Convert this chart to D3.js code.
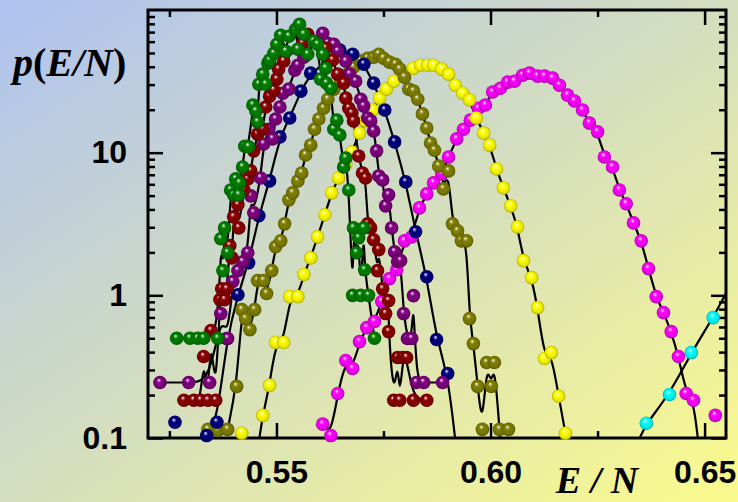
<!DOCTYPE html>
<html>
<head>
<meta charset="utf-8">
<script src="https://cdn.jsdelivr.net/npm/d3@7"></script>
<style>
  body { margin: 0; }
  svg { display: block; }
  .tick text { font-family: "Liberation Sans", Arial, sans-serif; font-weight: bold; font-size: 32px; fill: #000; }
  .tick line { stroke: #000; stroke-width: 2.5; }
  .title { font-family: "Liberation Serif", "Times New Roman", serif; font-weight: bold; font-style: italic; font-size: 40px; }
  .upright { font-style: normal; }
</style>
</head>
<body>
<svg id="svg" width="738" height="502"></svg>
<script>
// [E/N, p(E/N)], one array per series
// a third entry of 0 keeps that marker off the black curve
const green = [[0.5267,0.50],[0.5298,0.50],[0.5316,0.50],[0.5330,0.50],[0.5363,0.50],[0.5370,2.49],[0.5375,1.49],[0.5379,2.97],[0.5386,1.99],[0.5393,5.48],[0.5400,5.06],[0.5405,6.55],[0.5412,5.06],[0.5414,6.14],[0.5421,7.94],[0.5426,11.1],[0.5435,11.0],[0.5445,21.6],[0.5452,19.6],[0.5456,16.4],[0.5459,30.2],[0.5468,35.5],[0.5475,30.2],[0.5480,42.4],[0.5484,44.5],[0.5494,49.8],[0.5501,57.5],[0.5510,66.5],[0.5522,51.4],[0.5529,65.5],[0.5545,73.3],[0.5550,53.1],[0.5554,79.4],[0.5564,67.6],[0.5573,49.0],[0.5587,60.4],[0.5596,57.5],[0.5603,32.8],[0.5608,49.0],[0.5615,39.1],[0.5617,30.7],[0.5627,28.3],[0.5634,14.6],[0.5641,16.9],[0.5648,13.3],[0.5657,7.94],[0.5662,9.18],[0.5669,5.48],[0.5678,1.0],[0.5680,2.97],[0.5687,1.99],[0.5692,2.53],[0.5697,1.0],[0.5704,2.97],[0.5706,1.51],[0.5715,1.0],[0.5729,0.50]];
const darkred = [[0.5284,0.184],[0.5307,0.184],[0.5323,0.184],[0.5330,0.373],[0.5340,0.184],[0.5347,0.567],[0.5358,0.184],[0.5368,0.933],[0.5372,1.11],[0.5379,0.933],[0.5384,1.11],[0.5391,2.23],[0.5396,1.83],[0.5400,3.55],[0.5410,4.31],[0.5412,2.97],[0.5424,5.48],[0.5433,6.55],[0.5440,7.45],[0.5447,10.3],[0.5456,13.5],[0.5468,14.6],[0.5475,20.9],[0.5484,24.9],[0.5494,27.4],[0.5501,32.8],[0.5505,38.5],[0.5517,43.8],[0.5561,58.5],[0.5573,67.6],[0.5587,60.4],[0.5615,54.0],[0.5631,44.5],[0.5643,35.5],[0.5657,30.7],[0.5662,24.1],[0.5669,20.5],[0.5676,18.9],[0.5680,16.7],[0.5692,9.48],[0.5701,7.21],[0.5708,6.65],[0.5713,3.17],[0.5720,2.97],[0.5727,2.45],[0.5736,1.49],[0.5739,2.09],[0.5748,1.11],[0.5755,0.745],[0.5762,0.918],[0.5762,0.557],[0.5774,0.184],[0.5783,0.367],[0.5788,0.184],[0.5795,0.367],[0.5804,0.367],[0.5820,0.184],[0.5851,0.184]];
const purple = [[0.5228,0.245],[0.5295,0.245],[0.5344,0.245],[0.5370,0.745],[0.5386,0.498],[0.5398,1.25],[0.5410,1.49],[0.5421,1.72],[0.5433,1.99],[0.5440,4.98],[0.5447,3.79],[0.5463,6.65],[0.5470,11.5],[0.5482,14.6],[0.5491,12.5],[0.5498,17.2],[0.5508,20.9],[0.5515,26.1],[0.5529,27.9],[0.5543,37.9],[0.5550,41.0],[0.5564,46.7],[0.5608,68.7],[0.5620,58.5],[0.5634,57.5],[0.5643,51.4],[0.5662,43.8],[0.5671,35.5],[0.5685,31.7],[0.5697,23.7],[0.5704,21.2],[0.5713,17.5],[0.5720,16.7],[0.5727,14.2],[0.5734,10.3],[0.5739,6.87],[0.5748,6.44],[0.5755,4.24],[0.5762,5.06],[0.5769,2.97],[0.5776,2.02],[0.5783,1.72],[0.5790,1.75],[0.5797,0.745],[0.5806,0.498],[0.5816,0.498],[0.5820,0.995],[0.5827,0.245],[0.5844,0.245],[0.5888,0.245]];
const navy = [[0.5263,0.129,0],[0.5337,0.104],[0.5361,0.129],[0.5384,0.498],[0.5410,1.01],[0.5435,1.69],[0.5459,3.61],[0.5484,6.34],[0.5508,12.9],[0.5531,17.5],[0.5557,27.0],[0.5580,36.1],[0.5648,52.3],[0.5678,49.0],[0.5704,41.7],[0.5727,30.7],[0.5753,19.9],[0.5776,11.9],[0.5802,6.24],[0.5825,2.79],[0.5851,1.35],[0.5874,0.490],[0.5900,0.283]];
const olive = [[0.5340,0.115,0],[0.5363,0.113,0],[0.5386,0.115],[0.5407,0.230],[0.5419,0.794],[0.5428,0.687],[0.5438,0.575],[0.5449,0.794],[0.5456,1.27],[0.5470,1.27],[0.5477,1.03],[0.5489,1.49],[0.5498,2.19],[0.5510,2.41],[0.5519,3.17],[0.5529,4.67],[0.5538,5.23],[0.5550,6.34],[0.5559,7.21],[0.5568,9.64],[0.5580,11.3],[0.5589,14.6],[0.5599,17.2],[0.5610,20.5],[0.5620,23.7],[0.5634,27.9],[0.5650,31.7],[0.5666,35.5],[0.5680,39.7],[0.5697,43.8],[0.5713,45.9],[0.5727,46.7],[0.5739,49.0],[0.5750,45.9],[0.5764,43.1],[0.5778,41.7],[0.5788,38.5],[0.5799,33.8],[0.5809,27.9],[0.5820,27.0],[0.5830,23.7],[0.5841,18.7],[0.5851,14.9],[0.5860,11.7],[0.5869,10.4],[0.5879,8.07],[0.5890,5.57],[0.5902,7.45],[0.5911,3.17],[0.5923,2.83],[0.5932,2.41],[0.5944,2.41],[0.5951,0.687],[0.5960,0.459],[0.5970,0.230],[0.5981,0.115],[0.5991,0.338],[0.6002,0.230],[0.6009,0.338],[0.6021,0.115],[0.6042,0.115,0]];
const yellow = [[0.5419,0.108,0],[0.5468,0.144],[0.5484,0.234],[0.5498,0.467],[0.5517,0.467],[0.5531,0.98],[0.5550,0.98],[0.5564,1.40],[0.5580,1.83],[0.5596,2.57],[0.5613,3.67],[0.5629,5.23],[0.5645,6.65],[0.5662,8.34],[0.5676,10.1],[0.5694,13.7],[0.5708,16.7],[0.5725,19.9],[0.5741,24.1],[0.5757,27.9],[0.5774,31.7],[0.5795,36.7],[0.5820,39.1],[0.5837,41.0],[0.5853,41.0],[0.5867,41.0],[0.5886,38.5],[0.5902,35.5],[0.5918,29.7],[0.5935,26.1],[0.5951,23.4],[0.5967,17.5],[0.5984,13.7],[0.5998,11.3],[0.6014,7.69],[0.6030,5.66],[0.6047,4.24],[0.6063,3.02],[0.6077,1.75],[0.6096,1.33],[0.6110,0.82],[0.6126,0.361],[0.6142,0.397],[0.6159,0.196],[0.6175,0.108]];
const magenta = [[0.5608,0.125],[0.5627,0.104],[0.5643,0.205],[0.5662,0.349],[0.5678,0.307],[0.5694,0.474],[0.5711,0.594],[0.5729,0.655],[0.5746,0.904],[0.5764,1.31],[0.5781,1.51],[0.5799,2.41],[0.5816,2.57],[0.5834,4.10],[0.5851,5.14],[0.5867,6.14],[0.5886,7.10],[0.5902,9.33],[0.5921,12.5],[0.5937,14.6],[0.5953,16.9],[0.5972,20.5],[0.5988,21.6],[0.6005,26.6],[0.6023,28.3],[0.6040,31.2],[0.6056,31.7],[0.6075,34.9],[0.6091,36.1],[0.6110,34.4],[0.6126,34.4],[0.6145,33.3],[0.6161,29.7],[0.6180,25.3],[0.6196,23.0],[0.6215,19.9],[0.6231,16.1],[0.6250,14.0],[0.6266,9.33],[0.6285,7.94],[0.6301,5.48],[0.6317,4.38],[0.6334,3.22],[0.6352,2.41],[0.6369,1.54],[0.6387,0.98],[0.6404,0.757],[0.6422,0.557],[0.6439,0.373],[0.6457,0.205],[0.6474,0.184],[0.6525,0.144,0]];
const cyan = [[0.6364,0.127],[0.6418,0.202],[0.6469,0.397],[0.6520,0.698]];

// where the black curve runs on past the markers
const navyTail = [[0.5918,0.095]];
const oliveTail = [[0.6023,0.095]];
const yellowTail = [[0.5459,0.095],[0.6178,0.095]];
const magentaTail = [[0.6485,0.095]];
const cyanTail = [[0.6345,0.095],[0.6556,1.12]];

// ticks
const xMajor = [0.55, 0.60, 0.65];
const xMinor = [0.525, 0.575, 0.625];
const yMajor = [0.1, 1, 10];
const yMinor = [0.2,0.3,0.4,0.5,0.6,0.7,0.8,0.9,2,3,4,5,6,7,8,9,20,30,40,50,60,70,80,90];

// drawn bottom to top
const series = [
  {name: "cyan", color: "#00ffff", pts: cyan, tail: cyanTail},
  {name: "magenta", color: "#ff00ff", pts: magenta, tail: magentaTail},
  {name: "yellow", color: "#ffff00", pts: yellow, tail: yellowTail},
  {name: "olive", color: "#808000", pts: olive, tail: oliveTail},
  {name: "navy", color: "#000080", pts: navy, tail: navyTail},
  {name: "purple", color: "#800080", pts: purple, tail: []},
  {name: "darkred", color: "#8b0000", pts: darkred, tail: []},
  {name: "green", color: "#008000", pts: green, tail: []}
];

const attr = {
  width: 738,
  height: 502,
  left: 148,
  right: 726,
  top: 10,
  bottom: 438,
  radius: 6.8
};

const svg = d3.select("svg#svg");
const defs = svg.append("defs");

// background gradient, blue top left to yellow bottom right
let bg = defs.append("linearGradient")
  .attr("id", "bg")
  .attr("x1", 0).attr("y1", 0)
  .attr("x2", 1).attr("y2", 1);
bg.append("stop").attr("offset", 0).attr("stop-color", "#aec2f1");
bg.append("stop").attr("offset", 1).attr("stop-color", "#fbfa8c");

svg.append("rect")
  .attr("width", attr.width)
  .attr("height", attr.height)
  .attr("fill", "url(#bg)");

defs.append("clipPath").attr("id", "plotclip")
  .append("rect")
  .attr("x", attr.left)
  .attr("y", attr.top)
  .attr("width", attr.right - attr.left)
  .attr("height", attr.bottom - attr.top);

// shaded balls
series.forEach(function(s) {
  let c = d3.rgb(s.color);
  let grad = defs.append("radialGradient")
    .attr("id", "ball-" + s.name)
    .attr("cx", "50%").attr("cy", "50%").attr("r", "50%")
    .attr("fx", "40%").attr("fy", "30%");
  grad.append("stop").attr("offset", "0%").attr("stop-color", "#ffffff");
  grad.append("stop").attr("offset", "14%").attr("stop-color", d3.interpolateRgb(c, "#ffffff")(0.55));
  grad.append("stop").attr("offset", "34%").attr("stop-color", c.formatHex());
  grad.append("stop").attr("offset", "80%").attr("stop-color", c.darker(0.3).formatHex());
  grad.append("stop").attr("offset", "100%").attr("stop-color", c.darker(1.1).formatHex());
});

const x = d3.scaleLinear().domain([0.52, 0.655]).range([attr.left, attr.right]);
const y = d3.scaleLog().domain([0.1, 100]).range([attr.bottom, attr.top]);

var translate = function(a, b) {
  return "translate(" + a + "," + b + ")";
};

// axes, ticks pointing inward
var addAxis = function(axis, pos, values, size, labels, pad) {
  let g = svg.append("g")
    .attr("transform", pos)
    .call(axis.tickValues(values).tickSize(-size).tickPadding(pad || 3)
      .tickFormat(labels ? labels : ""));
  g.select(".domain").remove();
  return g;
};

addAxis(d3.axisLeft(y), translate(attr.left, 0), yMajor, 15, d => d < 1 ? d.toFixed(1) : String(d), 21);
addAxis(d3.axisLeft(y), translate(attr.left, 0), yMinor, 7);
addAxis(d3.axisRight(y), translate(attr.right, 0), yMajor, 15);
addAxis(d3.axisRight(y), translate(attr.right, 0), yMinor, 7);
addAxis(d3.axisBottom(x), translate(0, attr.bottom), xMajor, 15, d3.format(".2f"), 22);
addAxis(d3.axisBottom(x), translate(0, attr.bottom), xMinor, 7);
addAxis(d3.axisTop(x), translate(0, attr.top), xMajor, 15);
addAxis(d3.axisTop(x), translate(0, attr.top), xMinor, 7);

svg.selectAll("g.tick text").attr("fill", "#000");

// frame
svg.append("rect")
  .attr("x", attr.left)
  .attr("y", attr.top)
  .attr("width", attr.right - attr.left)
  .attr("height", attr.bottom - attr.top)
  .attr("fill", "none")
  .attr("stroke", "#000")
  .attr("stroke-width", 3);

// black curves
const line = d3.line()
  .x(d => x(d[0]))
  .y(d => y(d[1]))
  .curve(d3.curveBasis);

svg.append("g")
  .attr("clip-path", "url(#plotclip)")
  .selectAll("path")
  .data(series)
  .enter()
  .append("path")
  .attr("d", function(s) {
    let pts = s.pts.filter(d => d[2] !== 0).concat(s.tail);
    pts.sort((a, b) => a[0] - b[0]);
    return line(pts);
  })
  .attr("fill", "none")
  .attr("stroke", "#000")
  .attr("stroke-width", 2.2)
  .attr("stroke-linejoin", "round");

// markers
series.forEach(function(s) {
  svg.append("g")
    .attr("class", "markers " + s.name)
    .selectAll("circle")
    .data(s.pts)
    .enter()
    .append("circle")
    .attr("cx", d => x(d[0]))
    .attr("cy", d => y(d[1]))
    .attr("r", attr.radius)
    .attr("fill", "url(#ball-" + s.name + ")");
});

// axis titles
let ytitle = svg.append("text")
  .attr("class", "title")
  .attr("x", 13)
  .attr("y", 76);
ytitle.append("tspan").text("p");
ytitle.append("tspan").attr("class", "upright").text("(");
ytitle.append("tspan").text("E/N");
ytitle.append("tspan").attr("class", "upright").text(")");

svg.append("text")
  .attr("class", "title")
  .attr("x", 597)
  .attr("y", 493)
  .attr("text-anchor", "middle")
  .style("font-size", "38px")
  .text("E / N");
</script>
</body>
</html>
